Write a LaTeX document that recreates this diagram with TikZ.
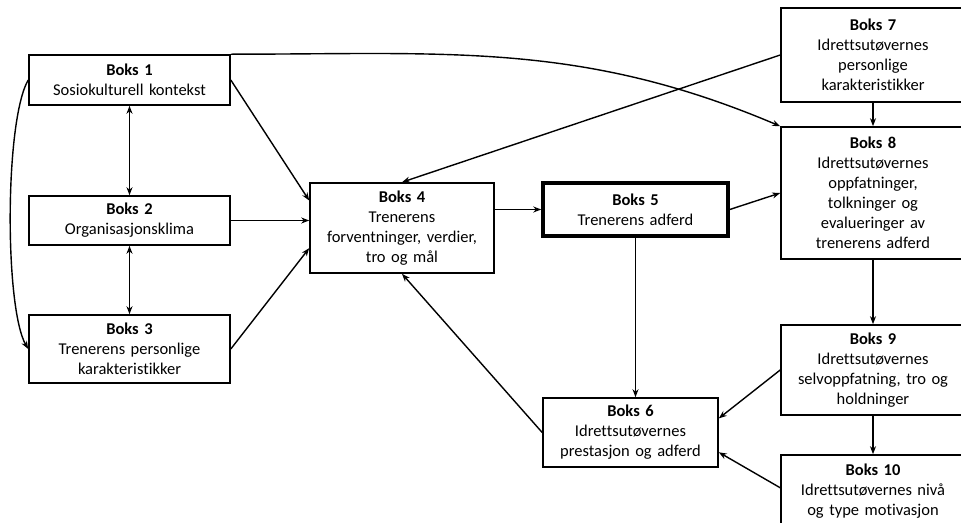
\documentclass[tikz,border=0pt]{standalone}
\usepackage{fontspec}
\setmainfont{Carlito}[Ligatures=NoCommon]
\usepackage{tikz}
\usetikzlibrary{arrows.meta, positioning, calc}

\begin{document}
\begin{tikzpicture}[
    x=1pt, y=1pt,
    boks/.style={rectangle, draw, line width=1.6pt, inner sep=0pt, align=center, font=\fontsize{16.5}{20}\selectfont},
    arr/.style={-{Stealth[length=8pt, width=6pt]}, line width=1.4pt},
    dobbel/.style={{Stealth[length=8pt, width=6pt]}-{Stealth[length=8pt, width=6pt]}, line width=1.4pt},
]
\useasboundingbox (0,0) rectangle (961,-522);

% venstre kolonne
\node[boks, minimum width=201, minimum height=50, text width=197] (b1) at (129.5,-80) {\textbf{Boks 1}\\Sosiokulturell kontekst};
\node[boks, minimum width=201, minimum height=49, text width=197] (b2) at (129.5,-220.5) {\textbf{Boks 2}\\Organisasjonsklima};
\node[boks, minimum width=201, minimum height=68, text width=197] (b3) at (129.5,-349) {\textbf{Boks 3}\\Trenerens personlige\\karakteristikker};

% midten
\node[boks, minimum width=184, minimum height=90, text width=180] (b4) at (402,-228) {\textbf{Boks 4}\\Trenerens\\forventninger, verdier,\\tro og mål};
\node[boks, line width=3.5pt, minimum width=185, minimum height=53, text width=180] (b5) at (635.5,-209.5) {\textbf{Boks 5}\\Trenerens adferd};
\node[boks, minimum width=175, minimum height=69, text width=172] (b6) at (630.5,-432.5) {\textbf{Boks 6}\\Idrettsutøvernes\\prestasjon og adferd};

% høyre kolonne
\node[boks, minimum width=184, minimum height=94, text width=180] (b7) at (873,-55) {\textbf{Boks 7}\\Idrettsutøvernes\\personlige\\karakteristikker};
\node[boks, minimum width=184, minimum height=132, text width=180] (b8) at (873,-193) {\textbf{Boks 8}\\Idrettsutøvernes\\oppfatninger,\\tolkninger og\\evalueringer av\\trenerens adferd};
\node[boks, minimum width=184, minimum height=90, text width=180] (b9) at (873,-370) {\textbf{Boks 9}\\Idrettsutøvernes\\selvoppfatning, tro og\\holdninger};
\node[boks, minimum width=184, minimum height=73, text width=180] (b10) at (873,-491.5) {\textbf{Boks 10}\\Idrettsutøvernes nivå\\og type motivasjon};

% piler
\draw[dobbel] (b1.south) -- (b2.north);
\draw[dobbel] (b2.south) -- (b3.north);
\draw[arr] (b1.west) to[out=240, in=120, looseness=0.45] (b3.west);
\draw[arr] (b1.east) -- ($(b4.north west)!0.2!(b4.south west)$);
\draw[arr] (b2.east) -- (b2.east -| b4.west);
\draw[arr] (b3.east) -- ($(b4.north west)!0.72!(b4.south west)$);
\draw[arr] (b1.north east) to[out=0, in=157] (b8.north west);
\draw[arr] (b7.west) -- (b4.north);
\draw[arr] (b4.east |- b5.west) -- (b5.west);
\draw[arr] (b5.east) -- (b8.west);
\draw[arr] (b7.south) -- (b8.north);
\draw[arr] (b8.south) -- (b9.north);
\draw[arr] (b9.south) -- (b10.north);
\draw[arr] (b5.south) -- (b5.south |- b6.north);
\draw[arr] (b6.west) -- (b4.south);
\draw[arr] (b9.west) -- ($(b6.north east)!0.3!(b6.south east)$);
\draw[arr] ($(b10.north west)!0.45!(b10.south west)$) -- ($(b6.north east)!0.78!(b6.south east)$);
\end{tikzpicture}
\end{document}
